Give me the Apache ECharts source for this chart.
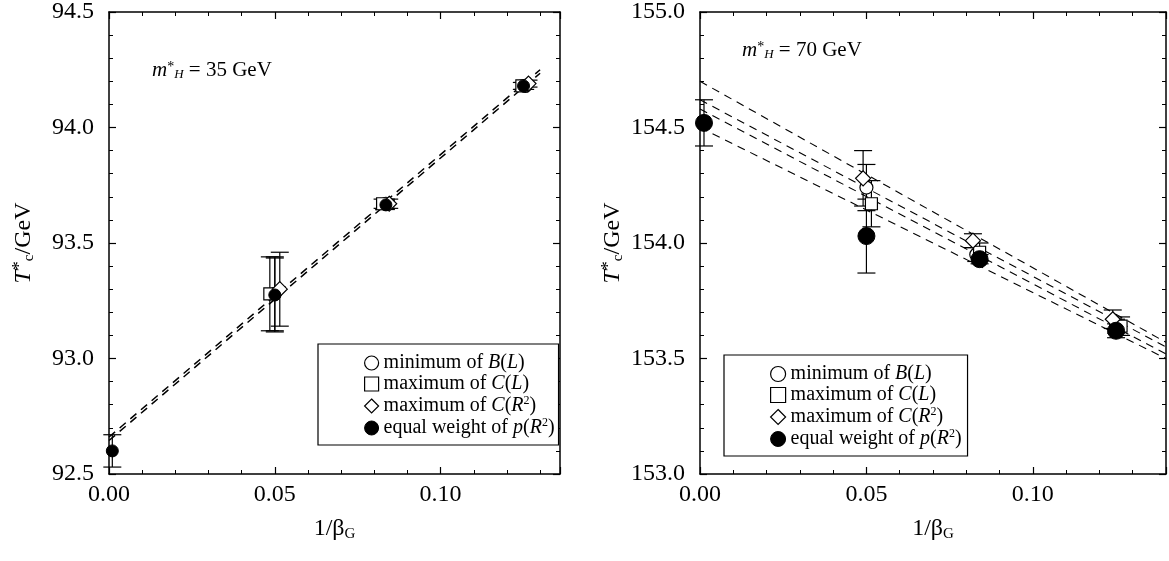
<!DOCTYPE html>
<html><head><meta charset="utf-8">
<script src="https://cdn.jsdelivr.net/npm/echarts@6/dist/echarts.min.js"></script>
<style>html,body{margin:0;padding:0;background:#fff}#c{width:1169px;height:561px}</style>
</head><body><div id="c"></div>
<script>
// ---------- DATA ----------
// Left panel: m_H* = 35 GeV
const L_circleX = [0.0500, 0.0835, 0.1255];
const L_circleY = [93.28, 93.67, 94.18];
const L_circleE = [0.16, 0.02, 0.015];
const L_squareX = [0.0485, 0.0825, 0.1245];
const L_squareY = [93.28, 93.67, 94.18];
const L_squareE = [0.16, 0.02, 0.015];
const L_diamondX = [0.0515, 0.0845, 0.1265];
const L_diamondY = [93.30, 93.67, 94.19];
const L_diamondE = [0.16, 0.02, 0.015];
const L_dotX = [0.0010, 0.0500, 0.0835, 0.1250];
const L_dotY = [92.60, 93.275, 93.665, 94.18];
const L_dotE = [0.07, 0.16, 0.02, 0.015];
const L_fitX = [0.0, 0.130];
const L_fit1 = [92.660, 94.250];
const L_fit2 = [92.645, 94.235];

// Right panel: m_H* = 70 GeV
const R_circleX = [0.0500, 0.0830, 0.1250];
const R_circleY = [154.24, 153.95, 153.64];
const R_circleE = [0.10, 0.03, 0.03];
const R_squareX = [0.0515, 0.0840, 0.1265];
const R_squareY = [154.17, 153.96, 153.64];
const R_squareE = [0.10, 0.04, 0.04];
const R_diamondX = [0.0490, 0.0820, 0.1240];
const R_diamondY = [154.28, 154.01, 153.67];
const R_diamondE = [0.12, 0.03, 0.04];
const R_dotX = [0.0012, 0.0500, 0.0840, 0.1250];
const R_dotY = [154.52, 154.03, 153.93, 153.62];
const R_dotE = [0.10, 0.16, 0.02, 0.03];
const R_fitX = [0.0, 0.140];
const R_fit1 = [154.70, 153.57];
const R_fit2 = [154.62, 153.55];
const R_fit3 = [154.58, 153.52];
const R_fit4 = [154.50, 153.50];

const xTicks = [0.00, 0.05, 0.10];
const L_yTicks = [92.5, 93.0, 93.5, 94.0, 94.5];
const R_yTicks = [153.0, 153.5, 154.0, 154.5, 155.0];

const seriesNames = ['minimum of B(L)', 'maximum of C(L)', 'maximum of C(R2)', 'equal weight of p(R2)'];
const panelLabels = ['35 GeV', '70 GeV'];

// ---------- BUILD ----------
const FONT = 'Liberation Serif';
const zip = (xs, ys, es) => xs.map((x, i) => es ? [x, ys[i], es[i]] : [x, ys[i]]);

function errRender(cap) {
  return function (params, api) {
    const x = api.value(0), y = api.value(1), e = api.value(2);
    const t = api.coord([x, y + e]), b = api.coord([x, y - e]);
    const st = { stroke: '#000', lineWidth: 1.2 };
    return { type: 'group', children: [
      { type: 'line', shape: { x1: t[0], y1: t[1], x2: b[0], y2: b[1] }, style: st },
      { type: 'line', shape: { x1: t[0] - cap, y1: t[1], x2: t[0] + cap, y2: t[1] }, style: st },
      { type: 'line', shape: { x1: b[0] - cap, y1: b[1], x2: b[0] + cap, y2: b[1] }, style: st }
    ]};
  };
}

const richBase = {
  n: { fontFamily: FONT, fontSize: 20, color: '#000', lineHeight: 22 },
  i: { fontFamily: FONT, fontSize: 20, color: '#000', fontStyle: 'italic', lineHeight: 22 },
  s: { fontFamily: FONT, fontSize: 12, color: '#000', verticalAlign: 'top', lineHeight: 12 }
};
function legendFmt(name) {
  if (name === seriesNames[0]) return '{n|minimum of }{i|B}{n|(}{i|L}{n|)}';
  if (name === seriesNames[1]) return '{n|maximum of }{i|C}{n|(}{i|L}{n|)}';
  if (name === seriesNames[2]) return '{n|maximum of }{i|C}{n|(}{i|R}{s|2}{n|)}';
  return '{n|equal weight of }{i|p}{n|(}{i|R}{s|2}{n|)}';
}

function xAxes(gi, max) {
  return [{
    type: 'value', gridIndex: gi, min: 0, max: max, interval: 0.05,
    axisLine: { show: true, onZero: false, lineStyle: { color: '#000', width: 1.5 } },
    axisTick: { show: true, inside: true, length: 7, lineStyle: { color: '#000', width: 1.2 } },
    minorTick: { show: true, splitNumber: 5, length: 4, lineStyle: { color: '#000', width: 1 } },
    splitLine: { show: false },
    axisLabel: { show: true, margin: 9, fontFamily: FONT, fontSize: 24, color: '#000',
      formatter: v => xTicks.some(t => Math.abs(t - v) < 1e-9) ? v.toFixed(2) : '' , showMaxLabel: false},
    name: '{n|1/β}{sub|G}', nameLocation: 'middle', nameGap: 42,
    nameTextStyle: { rich: {
      n: { fontFamily: FONT, fontSize: 24, color: '#000', lineHeight: 26 },
      sub: { fontFamily: FONT, fontSize: 15, color: '#000', verticalAlign: 'bottom', lineHeight: 14 } } }
  }, {
    type: 'value', gridIndex: gi, min: 0, max: max, interval: 0.05, position: 'top',
    axisLine: { show: true, onZero: false, lineStyle: { color: '#000', width: 1.5 } },
    axisTick: { show: true, inside: true, length: 7, lineStyle: { color: '#000', width: 1.2 } },
    minorTick: { show: true, splitNumber: 5, length: 4, lineStyle: { color: '#000', width: 1 } },
    splitLine: { show: false }, axisLabel: { show: false }
  }];
}
function yAxes(gi, min, max, nameGap) {
  return [{
    type: 'value', gridIndex: gi, min: min, max: max, interval: 0.5,
    axisLine: { show: true, onZero: false, lineStyle: { color: '#000', width: 1.5 } },
    axisTick: { show: true, inside: true, length: 7, lineStyle: { color: '#000', width: 1.2 } },
    minorTick: { show: true, splitNumber: 5, length: 4, lineStyle: { color: '#000', width: 1 } },
    splitLine: { show: false },
    axisLabel: { show: true, margin: 15, fontFamily: FONT, fontSize: 24, color: '#000', formatter: v => v.toFixed(1) },
    name: '{i|T}{s|*}{b|c}{n|/GeV}', nameLocation: 'middle', nameGap: nameGap,
    nameTextStyle: { rich: {
      n: { fontFamily: FONT, fontSize: 24, color: '#000', lineHeight: 26 },
      i: { fontFamily: FONT, fontSize: 24, color: '#000', fontStyle: 'italic', lineHeight: 26 },
      s: { fontFamily: FONT, fontSize: 18, color: '#000', verticalAlign: 'top', lineHeight: 14 },
      b: { fontFamily: FONT, fontSize: 15, color: '#000', verticalAlign: 'bottom', lineHeight: 12 } } }
  }, {
    type: 'value', gridIndex: gi, min: min, max: max, interval: 0.5, position: 'right',
    axisLine: { show: true, onZero: false, lineStyle: { color: '#000', width: 1.5 } },
    axisTick: { show: true, inside: true, length: 7, lineStyle: { color: '#000', width: 1.2 } },
    minorTick: { show: true, splitNumber: 5, length: 4, lineStyle: { color: '#000', width: 1 } },
    splitLine: { show: false }, axisLabel: { show: false }
  }];
}

const openStyle = { color: '#fff', borderColor: '#000', borderWidth: 1.2, opacity: 1 };
const fillStyle = { color: '#000', borderColor: '#000', borderWidth: 1, opacity: 1 };

function panelSeries(xi, yi, P, dotSize) {
  const s = [];
  P.fits.forEach((f, k) => s.push({
    type: 'line', name: 'fit' + k, xAxisIndex: xi, yAxisIndex: yi, data: zip(P.fitX, f),
    showSymbol: false, symbol: 'none', z: 1, silent: true,
    lineStyle: { color: '#000', width: P.fitW, type: [8, 6] }
  }));
  const sets = [
    [P.cX, P.cY, P.cE], [P.sX, P.sY, P.sE], [P.dX, P.dY, P.dE], [P.fX, P.fY, P.fE]
  ];
  sets.forEach((d, k) => s.push({
    type: 'custom', name: 'err' + k, xAxisIndex: xi, yAxisIndex: yi, z: 2,
    renderItem: errRender(9), encode: { x: 0, y: 1 }, data: zip(d[0], d[1], d[2])
  }));
  const syms = ['circle', 'rect', 'diamond', 'circle'];
  const sizes = [13, 12, 15, dotSize];
  sets.forEach((d, k) => s.push({
    type: 'scatter', name: seriesNames[k], xAxisIndex: xi, yAxisIndex: yi, z: 3 + k,
    symbol: syms[k], symbolSize: sizes[k], data: zip(d[0], d[1]),
    itemStyle: k === 3 ? fillStyle : openStyle
  }));
  return s;
}

const Lp = { fitX: L_fitX, fits: [L_fit1, L_fit2], fitW: 1.5,
  cX: L_circleX, cY: L_circleY, cE: L_circleE, sX: L_squareX, sY: L_squareY, sE: L_squareE,
  dX: L_diamondX, dY: L_diamondY, dE: L_diamondE, fX: L_dotX, fY: L_dotY, fE: L_dotE };
const Rp = { fitX: R_fitX, fits: [R_fit1, R_fit2, R_fit3, R_fit4], fitW: 1.1,
  cX: R_circleX, cY: R_circleY, cE: R_circleE, sX: R_squareX, sY: R_squareY, sE: R_squareE,
  dX: R_diamondX, dY: R_diamondY, dE: R_diamondE, fX: R_dotX, fY: R_dotY, fE: R_dotE };

function legendData() {
  return seriesNames.map((n, k) => ({
    name: n, icon: ['circle', 'rect', 'diamond', 'circle'][k],
    itemStyle: k === 3 ? { color: '#000', borderColor: '#000', borderWidth: 1, opacity: 1 }
                       : { color: '#fff', borderColor: '#000', borderWidth: 1.2, opacity: 1 }
  }));
}
function legend(left, top, pad, iw) {
  return {
    orient: 'vertical', left: left, top: top, padding: pad, itemGap: 1,
    itemWidth: iw, itemHeight: iw, selectedMode: false,
    backgroundColor: '#fff', borderColor: '#000', borderWidth: 1.2,
    data: legendData(),
    formatter: legendFmt, textStyle: { rich: richBase }
  };
}

const mRich = {
  i: { fontFamily: FONT, fontSize: 21, fontStyle: 'italic', color: '#000' },
  s: { fontFamily: FONT, fontSize: 14, color: '#000', verticalAlign: 'top', lineHeight: 12 },
  b: { fontFamily: FONT, fontSize: 13, fontStyle: 'italic', color: '#000', verticalAlign: 'bottom', lineHeight: 12 },
  n: { fontFamily: FONT, fontSize: 21, color: '#000' }
};

const option = {
  animation: false,
  backgroundColor: '#fff',
  grid: [
    { left: 109, top: 12, width: 451, height: 462 },
    { left: 700, top: 12, width: 466, height: 462 }
  ],
  xAxis: [...xAxes(0, 0.136), ...xAxes(1, 0.14)],
  yAxis: [...yAxes(0, 92.5, 94.5, 72), ...yAxes(1, 153, 155, 74)],
  legend: [
    legend(318, 344, [9, 4, 7, 46], 14),
    legend(724, 355, [9, 6, 7, 46], 15)
  ],
  graphic: [
    { type: 'text', left: 152, top: 60, style: { text: '{i|m}{s|*}{b|H}{n| = ' + panelLabels[0] + '}', rich: mRich } },
    { type: 'text', left: 742, top: 40, style: { text: '{i|m}{s|*}{b|H}{n| = ' + panelLabels[1] + '}', rich: mRich } }
  ],
  series: [...panelSeries(0, 0, Lp, 12), ...panelSeries(2, 2, Rp, 17)]
};

const chart = echarts.init(document.getElementById('c'), null, { renderer: 'canvas' });
chart.setOption(option);
</script></body></html>
